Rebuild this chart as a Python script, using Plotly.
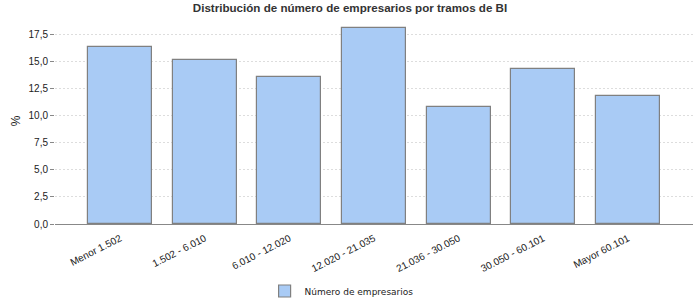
import plotly.graph_objects as go

categories = ["Menor 1.502", "1.502 - 6.010", "6.010 - 12.020", "12.020 - 21.035",
              "21.036 - 30.050", "30.050 - 60.101", "Mayor 60.101"]
values = [16.29, 15.09, 13.52, 18.04, 10.81, 14.26, 11.77]
y_ticks = [0, 2.5, 5, 7.5, 10, 12.5, 15, 17.5]
y_tick_labels = ["0,0", "2,5", "5,0", "7,5", "10,0", "12,5", "15,0", "17,5"]
series_name = "Número de empresarios"
title_text = "Distribución de número de empresarios por tramos de BI"

fig = go.Figure()
fig.add_trace(go.Bar(
    x=list(range(len(categories))), y=values, name=series_name,
    width=0.756,
    marker=dict(color="#A9CBF5", line=dict(color="#808080", width=1.2)),
    showlegend=True,
))

fig.update_layout(
    width=700, height=300,
    margin=dict(l=55, r=7, t=18, b=76, autoexpand=False),
    paper_bgcolor="white", plot_bgcolor="white",
    title=dict(text=title_text, x=0.5, xref="container", xanchor="center",
               y=0.973, yref="container", yanchor="middle",
               font=dict(family="Liberation Sans, Arial", size=11.6, color="#333333", weight="bold")),
    font=dict(family="Liberation Sans, Arial", size=10, color="#222222"),
    bargap=0,
    legend=dict(orientation="h", x=0.488, xref="container", xanchor="center",
                y=0.03, yref="container", yanchor="middle",
                font=dict(family="DejaVu Sans", size=9, color="#222222"),
                itemwidth=30, tracegroupgap=0),
    xaxis=dict(
        range=[-0.77, len(categories) - 1 + 0.77],
        tickmode="array", tickvals=list(range(len(categories))), ticktext=categories,
        tickangle=-27, ticks="", ticklabelstandoff=4, automargin=False,
        showgrid=False, zeroline=False,
        showline=True, linecolor="#888888", linewidth=1,
        tickfont=dict(family="Liberation Sans, Arial", size=10, color="#222222"),
    ),
    yaxis=dict(
        range=[0, 19], automargin=False,
        tickmode="array", tickvals=y_ticks, ticktext=y_tick_labels,
        ticks="outside", ticklen=4, tickcolor="#888888",
        showgrid=True, gridcolor="#DDDDDD", griddash="2px,2px", gridwidth=1,
        zeroline=False, showline=False,
        title=dict(text="%", standoff=5, font=dict(family="Liberation Sans, Arial", size=12, color="#222222")),
        tickfont=dict(family="Liberation Sans, Arial", size=10, color="#222222"),
    ),
)

fig.write_html("out.html")
